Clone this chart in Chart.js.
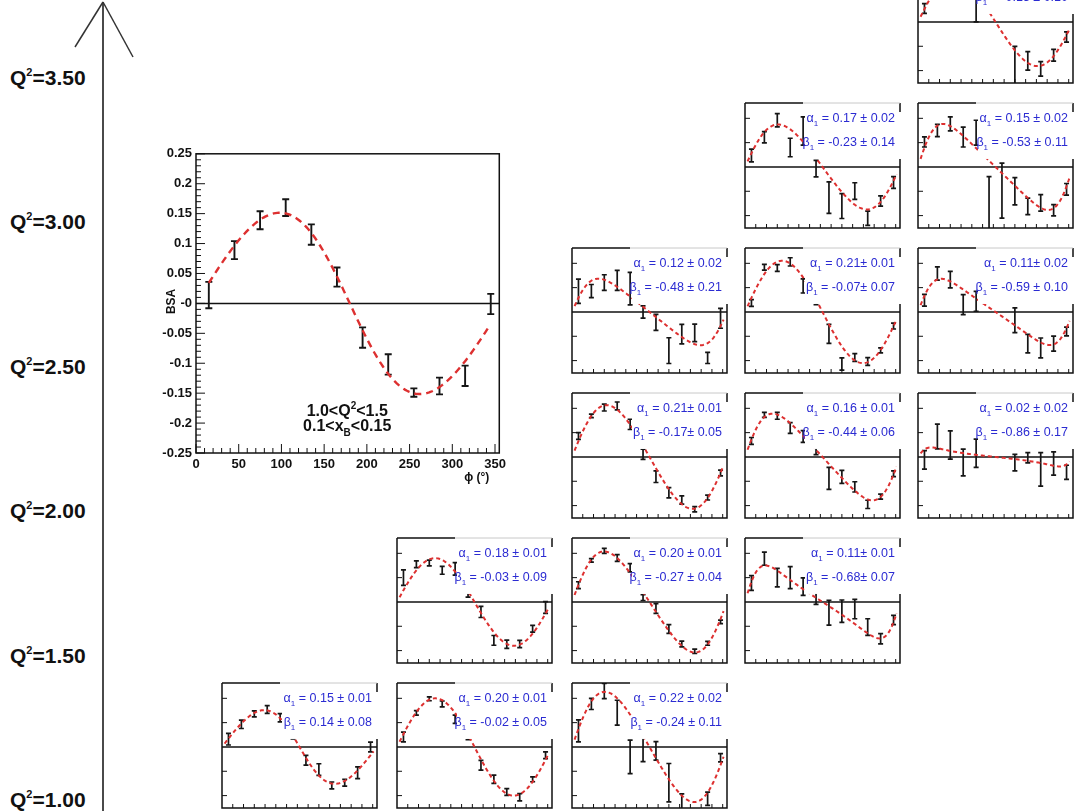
<!DOCTYPE html>
<html>
<head>
<meta charset="utf-8">
<script src="https://cdn.jsdelivr.net/npm/chart.js@4"></script>
<style>
  html, body { margin: 0; padding: 0; background: #fff; }
  body { width: 1082px; height: 811px; position: relative; overflow: hidden;
         font-family: "Liberation Sans", Arial, Helvetica, sans-serif; }
  .q2 { position: absolute; left: 10px; font-weight: bold; font-size: 21px; line-height: 24px;
        color: #111; white-space: nowrap; }
  .q2 sup { font-size: 11px; vertical-align: 9px; line-height: 0; }
  canvas { position: absolute; }
  svg { position: absolute; left: 0; top: 0; }
</style>
</head>
<body>
<svg width="1082" height="811">
  <line x1="103" y1="2" x2="103" y2="811" stroke="#4a4a4a" stroke-width="2"/>
  <line x1="103" y1="2" x2="75" y2="47" stroke="#333" stroke-width="1.5"/>
  <line x1="103" y1="2" x2="133" y2="57" stroke="#333" stroke-width="1.5"/>
</svg>
<script>
// phi bin centres (deg)
const phi = [15, 45, 75, 105, 135, 165, 195, 225, 255, 285, 315, 345];

// large panel, 1.0<Q2<1.5, 0.1<xB<0.15
const bigBsa = [0.014, 0.089, 0.139, 0.160, 0.115, 0.044, -0.057, -0.102, -0.149, -0.138, -0.121, -0.001];
const bigErr = [0.022, 0.015, 0.015, 0.014, 0.017, 0.016, 0.017, 0.017, 0.007, 0.014, 0.017, 0.017];
const bigYTicks = [-0.25, -0.2, -0.15, -0.1, -0.05, 0, 0.05, 0.1, 0.15, 0.2, 0.25];
const bigYLabels = ['-0.25', '-0.2', '-0.15', '-0.1', '-0.05', '-0', '0.05', '0.1', '0.15', '0.2', '0.25'];
const bigXTicks = [0, 50, 100, 150, 200, 250, 300, 350];
const bigXLabels = ['0', '50', '100', '150', '200', '250', '300', '350'];

// small panels, R = Q2 row (0 = 1.0-1.5), C = xB column
const bsaR0C0 = [0.032, 0.093, 0.136, 0.154, 0.120, 0.048, -0.055, -0.093, -0.158, -0.147, -0.106, 0.000];
const errR0C0 = [0.024, 0.017, 0.012, 0.016, 0.017, 0.015, 0.020, 0.024, 0.014, 0.014, 0.024, 0.020];
const bsaR0C1 = [0.041, 0.140, 0.198, 0.177, 0.114, 0.050, -0.075, -0.133, -0.185, -0.207, -0.133, -0.034];
const errR0C1 = [0.020, 0.009, 0.008, 0.012, 0.017, 0.020, 0.020, 0.017, 0.014, 0.015, 0.010, 0.014];
const bsaR0C2 = [0.066, 0.177, 0.230, 0.141, -0.041, -0.010, -0.016, -0.147, -0.233, null, -0.213, -0.044];
const errR0C2 = [0.045, 0.023, 0.031, 0.051, 0.069, 0.050, 0.038, 0.079, 0.040, null, 0.027, 0.017];
const bsaR1C1 = [0.100, 0.155, 0.160, 0.130, 0.136, 0.040, -0.041, -0.158, -0.174, -0.173, -0.110, -0.023];
const errR1C1 = [0.032, 0.014, 0.012, 0.016, 0.026, 0.020, 0.023, 0.020, 0.017, 0.015, 0.014, 0.024];
const bsaR1C2 = [0.069, 0.171, 0.210, 0.181, 0.141, 0.018, -0.027, -0.111, -0.173, -0.203, -0.170, -0.082];
const errR1C2 = [0.014, 0.007, 0.010, 0.014, 0.017, 0.012, 0.020, 0.018, 0.012, 0.009, 0.008, 0.007];
const bsaR1C3 = [0.078, 0.178, 0.100, 0.100, 0.063, 0.020, -0.044, -0.038, -0.029, -0.103, -0.151, -0.074];
const errR1C3 = [0.030, 0.027, 0.038, 0.045, 0.036, 0.030, 0.051, 0.046, 0.040, 0.034, 0.021, 0.019];
const bsaR2C2 = [0.086, 0.169, 0.203, 0.210, 0.134, 0.011, -0.081, -0.147, -0.177, -0.215, -0.167, -0.066];
const errR2C2 = [0.014, 0.007, 0.014, 0.016, 0.021, 0.021, 0.024, 0.021, 0.017, 0.011, 0.010, 0.012];
const bsaR2C3 = [0.066, 0.173, 0.169, 0.119, 0.084, 0.025, -0.088, -0.082, -0.123, -0.195, -0.163, -0.069];
const errR2C3 = [0.014, 0.010, 0.014, 0.022, 0.024, 0.015, 0.045, 0.027, 0.021, 0.017, 0.010, 0.012];
const bsaR2C4 = [-0.012, 0.084, 0.049, -0.023, 0.015, null, null, -0.023, -0.003, -0.051, -0.027, -0.063];
const errR2C4 = [0.038, 0.051, 0.058, 0.055, 0.058, null, null, 0.034, 0.021, 0.069, 0.048, 0.029];
const bsaR3C2 = [0.085, 0.086, 0.121, 0.130, 0.096, 0.000, -0.043, -0.159, -0.091, -0.086, -0.189, -0.026];
const errR3C2 = [0.050, 0.027, 0.032, 0.041, 0.067, 0.025, 0.033, 0.053, 0.040, 0.036, 0.023, 0.041];
const bsaR3C3 = [0.037, 0.184, 0.181, 0.206, 0.107, 0.050, -0.090, -0.214, -0.187, -0.204, -0.158, -0.058];
const errR3C3 = [0.014, 0.012, 0.014, 0.017, 0.029, 0.020, 0.039, 0.025, 0.016, 0.016, 0.010, 0.012];
const bsaR3C4 = [0.048, 0.158, 0.133, 0.030, 0.044, null, null, -0.034, -0.130, -0.148, -0.130, -0.080];
const errR3C4 = [0.024, 0.027, 0.034, 0.041, 0.041, null, null, 0.051, 0.038, 0.041, 0.031, 0.018];
const bsaR4C3 = [0.047, 0.122, 0.192, 0.080, 0.148, -0.007, -0.126, -0.161, -0.099, -0.211, -0.140, -0.064];
const errR4C3 = [0.026, 0.023, 0.027, 0.038, 0.058, 0.034, 0.065, 0.051, 0.034, 0.029, 0.021, 0.024];
const bsaR4C4 = [0.103, 0.150, 0.177, 0.123, 0.141, -0.150, -0.097, -0.100, -0.162, -0.148, -0.178, -0.092];
const errR4C4 = [0.021, 0.025, 0.029, 0.041, 0.051, 0.110, 0.113, 0.056, 0.034, 0.034, 0.023, 0.024];
const bsaR5C4 = [0.055, null, null, null, 0.120, null, null, -0.200, -0.160, -0.193, -0.137, -0.062];
const errR5C4 = [0.020, null, null, null, 0.120, null, null, 0.100, 0.038, 0.030, 0.024, 0.021];

// fit results printed in each panel (same order as panelBsa)
const fitAlpha = [0.15, 0.20, 0.22, 0.18, 0.20, 0.11, 0.21, 0.16, 0.02, 0.12, 0.21, 0.11, 0.17, 0.15, 0.18];
const fitBeta = [0.14, -0.02, -0.24, -0.03, -0.27, -0.68, -0.17, -0.44, -0.86, -0.48, -0.07, -0.59, -0.23, -0.53, -0.13];
const alphaText = ['0.15 \u00b1 0.01', '0.20 \u00b1 0.01', '0.22 \u00b1 0.02', '0.18 \u00b1 0.01', '0.20 \u00b1 0.01',
  '0.11\u00b1 0.01', '0.21\u00b1 0.01', '0.16 \u00b1 0.01', '0.02 \u00b1 0.02', '0.12 \u00b1 0.02',
  '0.21\u00b1 0.01', '0.11\u00b1 0.02', '0.17 \u00b1 0.02', '0.15 \u00b1 0.02', null];
const betaText = ['0.14 \u00b1 0.08', '-0.02 \u00b1 0.05', '-0.24 \u00b1 0.11', '-0.03 \u00b1 0.09', '-0.27 \u00b1 0.04',
  '-0.68\u00b1 0.07', '-0.17\u00b1 0.05', '-0.44 \u00b1 0.06', '-0.86 \u00b1 0.17', '-0.48 \u00b1 0.21',
  '-0.07\u00b1 0.07', '-0.59 \u00b1 0.10', '-0.23 \u00b1 0.14', '-0.53 \u00b1 0.11', '-0.13 \u00b1 0.10'];

const q2Values = ['1.00', '1.50', '2.00', '2.50', '3.00', '3.50'];

const panelBsa = [bsaR0C0, bsaR0C1, bsaR0C2, bsaR1C1, bsaR1C2, bsaR1C3, bsaR2C2, bsaR2C3, bsaR2C4,
  bsaR3C2, bsaR3C3, bsaR3C4, bsaR4C3, bsaR4C4, bsaR5C4];
const panelErr = [errR0C0, errR0C1, errR0C2, errR1C1, errR1C2, errR1C3, errR2C2, errR2C3, errR2C4,
  errR3C2, errR3C3, errR3C4, errR4C3, errR4C4, errR5C4];
const panelRow = [0, 0, 0, 1, 1, 1, 2, 2, 2, 3, 3, 3, 4, 4, 5];
const panelCol = [0, 1, 2, 1, 2, 3, 2, 3, 4, 2, 3, 4, 3, 4, 4];

// layout (page px)
const colLeft = [222, 397, 572, 745, 918];
const rowTop = [683, 538, 393, 248, 103, -42];
const PW = 155, PH = 125, PAD = 3;

const FONT = '"Liberation Sans", Arial, Helvetica, sans-serif';
const RED = '#dd3030';
const BLUE = '#2b2bd2';

// Q2 labels along the big arrow
q2Values.forEach((v, k) => {
  const d = document.createElement('div');
  d.className = 'q2';
  d.style.top = (800 - k * 144.4 - 12) + 'px';
  d.innerHTML = 'Q<sup>2</sup>=' + v;
  document.body.appendChild(d);
});

// fit function  alpha*sin(phi) / (1 + beta*cos(phi))
function fitCurve(a, b, from, to) {
  const pts = [];
  for (let f = from; f <= to; f += 2) {
    const r = f * Math.PI / 180;
    pts.push({ x: f, y: a * Math.sin(r) / (1 + b * Math.cos(r)) });
  }
  return pts;
}

function drawRich(ctx, parts, x, y, size, weight, align) {
  const fontOf = k => `${weight} ${k ? Math.round(size * 0.6) : size}px ${FONT}`;
  let w = 0;
  for (const [t, k] of parts) { ctx.font = fontOf(k); w += ctx.measureText(t).width; }
  let cx = align === 'right' ? x - w : align === 'center' ? x - w / 2 : x;
  ctx.textAlign = 'left';
  ctx.textBaseline = 'alphabetic';
  for (const [t, k] of parts) {
    ctx.font = fontOf(k);
    const dy = k === 'sub' ? size * 0.3 : k === 'sup' ? -size * 0.45 : 0;
    ctx.fillText(t, cx, y + dy);
    cx += ctx.measureText(t).width;
  }
}

const rootFrame = {
  id: 'rootFrame',
  beforeDatasetsDraw(chart, args, o) {
    const { ctx, chartArea: a, scales: { y } } = chart;
    const y0 = y.getPixelForValue(0);
    ctx.save();
    ctx.beginPath();
    ctx.rect(a.left, a.top, a.right - a.left, a.bottom - a.top);
    ctx.clip();
    ctx.strokeStyle = '#111';
    ctx.lineWidth = 1.5;
    ctx.beginPath();
    ctx.moveTo(a.left, y0);
    ctx.lineTo(a.right, y0);
    ctx.stroke();
    // error bars
    const cap = o.big ? 3.5 : 2.5;
    ctx.lineWidth = o.big ? 1.9 : 1.7;
    ctx.strokeStyle = '#151515';
    const raw = chart.data.datasets[1].data;
    chart.getDatasetMeta(1).data.forEach((el, i) => {
      if (raw[i].y == null) return;
      const e = o.err[i];
      const t = y.getPixelForValue(raw[i].y + e);
      const b = y.getPixelForValue(raw[i].y - e);
      ctx.beginPath();
      ctx.moveTo(el.x, t); ctx.lineTo(el.x, b);
      ctx.moveTo(el.x - cap, t); ctx.lineTo(el.x + cap, t);
      ctx.moveTo(el.x - cap, b); ctx.lineTo(el.x + cap, b);
      ctx.stroke();
    });
    ctx.restore();
  },
  afterDatasetsDraw(chart, args, o) {
    const { ctx, chartArea: a, scales: { x, y } } = chart;
    const y0 = y.getPixelForValue(0);
    ctx.save();
    ctx.strokeStyle = '#111';
    ctx.lineWidth = 1.5;
    if (o.big) {
      ctx.strokeRect(a.left, a.top, a.right - a.left, a.bottom - a.top);
      ctx.lineWidth = 1;
      for (let v = -25; v <= 25; v++) {
        const py = y.getPixelForValue(v / 100);
        const len = v % 5 === 0 ? 9 : 5;
        ctx.beginPath(); ctx.moveTo(a.left, py); ctx.lineTo(a.left + len, py); ctx.stroke();
      }
      for (let v = 0; v <= 350; v += 10) {
        const px = x.getPixelForValue(v);
        const len = v % 50 === 0 ? 9 : 5;
        ctx.beginPath(); ctx.moveTo(px, a.bottom); ctx.lineTo(px, a.bottom - len); ctx.stroke();
      }
      ctx.fillStyle = '#111';
      drawRich(ctx, [['1.0<Q', ''], ['2', 'sup'], ['<1.5', '']], x.getPixelForValue(177), y.getPixelForValue(-0.189), 16, 'bold', 'center');
      drawRich(ctx, [['0.1<x', ''], ['B', 'sub'], ['<0.15', '']], x.getPixelForValue(177), y.getPixelForValue(-0.213), 16, 'bold', 'center');
      ctx.save();
      ctx.translate(a.left - 24, y0 - 2);
      ctx.rotate(-Math.PI / 2);
      ctx.font = `bold 12px ${FONT}`;
      ctx.textAlign = 'center';
      ctx.textBaseline = 'middle';
      ctx.fillText('BSA', 0, 0);
      ctx.restore();
      ctx.font = `bold 12px ${FONT}`;
      ctx.textAlign = 'right';
      ctx.textBaseline = 'middle';
      ctx.fillText('\u03d5 (\u00b0)', a.right - 10, a.bottom + 25);
    } else {
      // stat box covering the upper right corner
      const boxL = a.left + 60, boxB = y0 - 8;
      ctx.fillStyle = '#fff';
      ctx.fillRect(boxL, a.top + 1, a.right - boxL, boxB - a.top - 1);
      ctx.beginPath();
      ctx.moveTo(a.left, a.top); ctx.lineTo(a.left, a.bottom); ctx.lineTo(a.right, a.bottom);
      ctx.lineTo(a.right, boxB);
      ctx.moveTo(a.left, a.top); ctx.lineTo(a.left + 58, a.top);
      ctx.moveTo(a.right, a.top); ctx.lineTo(a.right, a.top + 9);
      ctx.stroke();
      ctx.strokeStyle = '#c8c8c8';
      ctx.lineWidth = 1;
      ctx.beginPath(); ctx.moveTo(a.left + 58, a.top); ctx.lineTo(a.right, a.top); ctx.stroke();
      ctx.strokeStyle = '#111';
      [-0.2, -0.1, 0.1, 0.2].forEach(v => {
        const py = y.getPixelForValue(v);
        ctx.beginPath(); ctx.moveTo(a.left, py); ctx.lineTo(a.left + 5, py); ctx.stroke();
      });
      for (let v = 25; v < 360; v += 25) {
        const px = x.getPixelForValue(v);
        ctx.beginPath(); ctx.moveTo(px, a.bottom); ctx.lineTo(px, a.bottom - 4); ctx.stroke();
      }
      ctx.fillStyle = BLUE;
      if (o.alpha) drawRich(ctx, [['\u03b1', ''], ['1', 'sub'], [' = ' + o.alpha, '']], a.right - 5, a.top + 19, 12.5, 'normal', 'right');
      if (o.beta) drawRich(ctx, [['\u03b2', ''], ['1', 'sub'], [' = ' + o.beta, '']], a.right - 5, a.top + 43, 12.5, 'normal', 'right');
    }
    ctx.restore();
  }
};

function makeChart(left, top, w, h, cfg) {
  const c = document.createElement('canvas');
  c.width = w; c.height = h;
  c.style.left = left + 'px';
  c.style.top = top + 'px';
  document.body.appendChild(c);
  return new Chart(c, cfg);
}

function baseConfig(bsa, err, curve, frameOpts, big) {
  return {
    type: 'scatter',
    data: {
      datasets: [
        { type: 'line', data: curve, borderColor: RED, borderWidth: big ? 2.4 : 2,
          borderDash: big ? [7, 5] : [4, 3], pointRadius: 0, fill: false, tension: 0 },
        { data: phi.map((p, i) => ({ x: p, y: bsa[i] })), pointRadius: 0, showLine: false }
      ]
    },
    options: {
      responsive: false,
      animation: false,
      devicePixelRatio: 1,
      events: [],
      plugins: { legend: { display: false }, tooltip: { enabled: false }, rootFrame: frameOpts },
      scales: {}
    },
    plugins: [rootFrame]
  };
}

// small panels
panelBsa.forEach((bsa, i) => {
  const cfg = baseConfig(bsa, panelErr[i], fitCurve(fitAlpha[i], fitBeta[i], 6, 352),
    { big: false, err: panelErr[i], alpha: alphaText[i], beta: betaText[i] }, false);
  cfg.options.layout = { padding: PAD };
  cfg.options.scales = {
    x: { type: 'linear', min: 0, max: 360, display: false },
    y: { min: -0.251, max: 0.263, display: false }
  };
  makeChart(colLeft[panelCol[i]] - PAD, rowTop[panelRow[i]] - PAD, PW + 2 * PAD, PH + 2 * PAD, cfg);
});

// big panel
const tickFont = { family: FONT, weight: 'bold', size: 13 };
const bigCfg = baseConfig(bigBsa, bigErr, fitCurve(0.15, 0.14, 15, 343), { big: true, err: bigErr }, true);
bigCfg.options.layout = { padding: { left: 10, top: 10, right: 10, bottom: 0 } };
bigCfg.options.scales = {
  x: {
    type: 'linear', min: 0, max: 355,
    afterBuildTicks: s => { s.ticks = bigXTicks.map(v => ({ value: v })); },
    afterFit: s => { s.height = 40; },
    ticks: { callback: (v, i) => bigXLabels[i], font: tickFont, color: '#111', padding: 4,
             maxRotation: 0, autoSkip: false },
    grid: { display: false, drawTicks: false },
    border: { display: false }
  },
  y: {
    min: -0.25, max: 0.25,
    afterBuildTicks: s => { s.ticks = bigYTicks.map(v => ({ value: v })); },
    afterFit: s => { s.width = 50; },
    ticks: { callback: (v, i) => bigYLabels[i], font: tickFont, color: '#111', padding: 4, autoSkip: false },
    grid: { display: false, drawTicks: false },
    border: { display: false }
  }
};
makeChart(136, 142, 374, 351, bigCfg);
</script>
</body>
</html>
